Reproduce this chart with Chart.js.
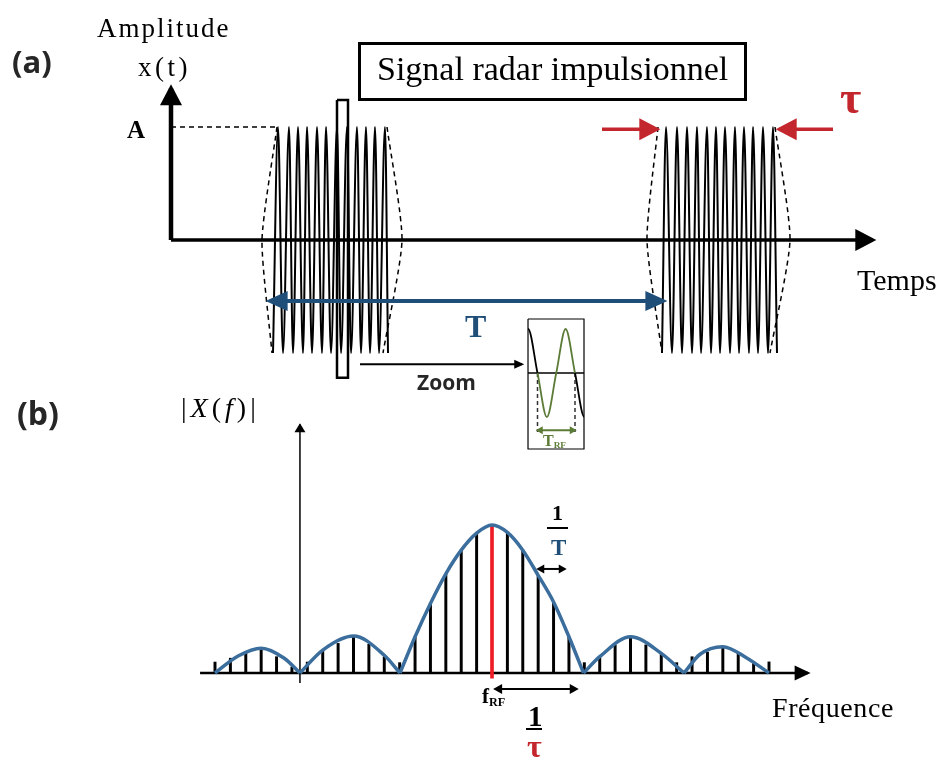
<!DOCTYPE html>
<html lang="fr">
<head>
<meta charset="utf-8">
<title>Signal radar impulsionnel</title>
<script src="https://cdn.jsdelivr.net/npm/chart.js@4"></script>
<style>
  html, body { margin: 0; padding: 0; background: #fff; }
  #wrap { position: relative; width: 941px; height: 758px; overflow: hidden; }
  #chart { position: absolute; left: 0; top: 0; }
  .lbl { position: absolute; white-space: nowrap; line-height: 1; color: #000; }
  .serif { font-family: "Liberation Serif", "DejaVu Serif", serif; }
  .sans { font-family: "Open Sans", "Liberation Sans", sans-serif; font-weight: 700; }
  .b { font-weight: 700; }
  .bar { position: absolute; background: #000; }
  .sub { font-size: 0.58em; vertical-align: -0.25em; }
  #titleBox { position: absolute; left: 358px; top: 42px; width: 389px; height: 59px;
              box-sizing: border-box; border: 3px solid #000; }
</style>
</head>
<body>
<div id="wrap">
  <canvas id="chart" width="941" height="758"></canvas>

  <!-- (a) -->
  <div class="lbl sans" style="left:12px; top:46px; font-size:31px; color:#262626;">(a)</div>
  <div class="lbl serif" style="left:97px; top:15px; font-size:27px; letter-spacing:2px;">Amplitude</div>
  <div class="lbl serif" style="left:138px; top:54px; font-size:27px; letter-spacing:3.5px;">x(t)</div>
  <div class="lbl serif b" style="left:127px; top:117px; font-size:25px;">A</div>
  <div id="titleBox"></div>
  <div class="lbl serif" style="left:377px; top:52px; font-size:34px;">Signal radar impulsionnel</div>
  <div class="lbl serif b" style="left:840px; top:75px; font-size:46px; color:#c4262e;">τ</div>
  <div class="lbl serif" style="left:857px; top:265px; font-size:30px;">Temps</div>
  <div class="lbl serif b" style="left:465px; top:310px; font-size:32px; color:#1f4e79;">T</div>
  <div class="lbl sans" style="left:417px; top:372px; font-size:21px; color:#262626;">Zoom</div>
  <div class="lbl serif b" style="left:543px; top:433px; font-size:16px; color:#5b7b36;">T<span class="sub">RF</span></div>

  <!-- (b) -->
  <div class="lbl sans" style="left:17px; top:397px; font-size:32px; color:#262626;">(b)</div>
  <div class="lbl serif" style="left:181px; top:394px; font-size:28px; letter-spacing:4px;">|<i>X</i>(<i>f</i>)|</div>
  <div class="lbl serif" style="left:772px; top:694px; font-size:28px; letter-spacing:0.6px;">Fréquence</div>
  <div class="lbl serif b" style="left:482px; top:686px; font-size:21px;">f<span class="sub">RF</span></div>
  <div class="lbl serif b" style="left:552px; top:502px; font-size:22px;">1</div>
  <div class="bar" style="left:547px; top:527px; width:21px; height:1.5px;"></div>
  <div class="lbl serif b" style="left:551px; top:536px; font-size:23px; color:#1f4e79;">T</div>
  <div class="lbl serif b" style="left:528px; top:702px; font-size:29px;">1</div>
  <div class="bar" style="left:526px; top:728px; width:16px; height:2px;"></div>
  <div class="lbl serif b" style="left:527px; top:730px; font-size:32px; color:#c4262e;">τ</div>
</div>

<script>
/* global Chart */
// ---- (a) Signal radar impulsionnel : temps (µs), amplitude normalisée (A = 1)
const pulse1Times = [10.2, 10.7, 11.2, 11.8, 12.2, 12.7, 13.2, 13.6, 14.1, 14.6, 15.1, 15.5, 16.0,
  16.6, 17.0, 17.6, 18.0, 18.6, 19.0, 19.5, 19.9, 20.4, 20.8, 21.4, 21.7];
const pulse2Times = [49.1, 49.5, 50.1, 50.6, 51.1, 51.6, 52.1, 52.6, 53.0, 53.6, 54.0, 54.5, 54.9,
  55.4, 55.9, 56.4, 56.8, 57.3, 57.8, 58.2, 58.7, 59.2, 59.7, 60.2, 60.6];
const pulseLevels = [-1, 1, -1, 1, -1, 1, -1, 1, -1, 1, -1, 1, -1, 1, -1, 1, -1, 1, -1, 1, -1, 1, -1, 1, -1];

// enveloppes (pointillés) : haut, axe, bas
const env1LeftTimes = [10.6, 9.1, 10.1];
const env1RightTimes = [21.6, 23.1, 21.2];
const env2LeftTimes = [48.7, 47.6, 49.1];
const env2RightTimes = [60.4, 61.9, 59.9];
const envLevels = [1, 0, -1];

const timeAxisEnd = 70.2;
const ampAxisEnd = 1.34;
const refLineTimes = [0, 10.7]; // niveau A
const periodArrowTimes = [9.9, 49.2]; // T
const periodArrowLevel = -0.54;
const tauLeftTimes = [43.1, 48.6];
const tauRightTimes = [66.2, 60.8];
const tauArrowLevel = 0.98;
const zoomWindowTimes = [16.6, 17.7];
const zoomWindowLevels = [1.24, -1.22];
const zoomArrowTimes = [18.9, 35.1];
const zoomArrowLevel = -1.1;

// ---- (b) Spectre |X(f)| : fréquence en multiples de 1/T autour de f_RF
const harmonics = [-18, -17, -16, -15, -14, -13, -12, -11, -10, -9, -8, -7, -6, -5, -4, -3, -2, -1, 0,
  1, 2, 3, 4, 5, 6, 7, 8, 9, 10, 11, 12, 13, 14, 15, 16, 17, 18];
const lineMags = [0.074, 0.10, 0.135, 0.17, 0.11, 0.04, 0.074, 0.155, 0.20, 0.25, 0.195, 0.11, 0.07,
  0.245, 0.47, 0.67, 0.83, 0.945, null,
  0.95, 0.83, 0.66, 0.48, 0.245, 0.07, 0.11, 0.19, 0.245, 0.19, 0.135, 0.07, 0.11, 0.14, 0.175, 0.135,
  0.075, 0.075];
const carrierHarmonic = 0;
const carrierMag = [-0.035, 1.0];

// enveloppe en sinus cardinal, lobe par lobe
const lobeL2Freq = [-18, -16.5, -15, -13.5, -12.48];
const lobeL2Mag = [0, 0.115, 0.168, 0.1, 0];
const lobeL1Freq = [-12.48, -11, -9, -7, -5.98];
const lobeL1Mag = [0, 0.155, 0.25, 0.12, 0];
const mainLobeFreq = [-5.98, -5, -4, -3, -2, -1, 0, 1, 2, 3, 4, 5, 5.95];
const mainLobeMag = [0, 0.245, 0.47, 0.67, 0.83, 0.945, 1, 0.95, 0.83, 0.66, 0.48, 0.245, 0];
const lobeR1Freq = [5.95, 7, 9, 11, 12.48];
const lobeR1Mag = [0, 0.11, 0.245, 0.133, 0];
const lobeR2Freq = [12.48, 13.5, 15, 16.5, 18];
const lobeR2Mag = [0, 0.125, 0.178, 0.105, 0];

const freqAxisRange = [-18.97, 20.53];
const magAxisFreq = -12.48;
const magAxisRange = [-0.068, 1.68];
const invTArrow = [2.99, 4.74];
const invTLevel = 0.703;
const invTauArrow = [0.19, 5.52];
const invTauLevel = -0.108;

// ---- encart zoom : temps en périodes T_RF
const rfPhase = [-0.5, -0.25, 0, 0.25, 0.5, 0.75, 1, 1.25, 1.5];
const rfLevels = [0, 1, 0, -1, 0, 1, 0, -1, 0];
const insetBoxX = [-0.253, 1.24];
const insetBoxY = [1.227, -1.727];
const rfMarkLevel = -1.34;
const rfArrowLevel = -1.3;

const BLACK = '#000';
const NAVY = '#1f4e79';
const RED = '#c4262e';
const ENV_BLUE = '#3b6e9c';
const CARRIER_RED = '#ee1c24';
const GREEN = '#5b7b36';

const W = 941;
const H = 758;
const INSET_LEFT = 528;
const INSET_RIGHT = 584;

/**
 * Bornes d'une échelle couvrant tout le canevas, telle que v0 -> p0 et v1 -> p1
 */
function fitX(v0, p0, v1, p1) {
  const k = (p1 - p0) / (v1 - v0);
  const min = v0 - p0 / k;
  return { min: min, max: min + W / k };
}
function fitY(v0, p0, v1, p1) {
  const k = (p0 - p1) / (v1 - v0);
  const min = v0 - (H - p0) / k;
  return { min: min, max: min + H / k };
}

function pts(xs, ys) {
  return xs.map(function (x, i) { return { x: x, y: Array.isArray(ys) ? ys[i] : ys }; });
}

function line(axes, xs, ys, color, width, extra) {
  return Object.assign({
    type: 'line',
    xAxisID: 'x' + axes,
    yAxisID: 'y' + axes,
    data: pts(xs, ys),
    borderColor: color,
    borderWidth: width,
    pointRadius: 0,
    fill: false,
    tension: 0,
    borderCapStyle: 'butt',
  }, extra || {});
}

// pointes de flèches aux extrémités des segments
const arrowHeads = {
  id: 'arrowHeads',
  afterDatasetsDraw(chart) {
    const ctx = chart.ctx;
    chart.data.datasets.forEach(function (ds, i) {
      if (!ds.arrow) return;
      const p = chart.getDatasetMeta(i).data;
      const ends = [];
      if (ds.arrow.end !== false) ends.push([p[p.length - 1], p[p.length - 2]]);
      if (ds.arrow.start) ends.push([p[0], p[1]]);
      ends.forEach(function (e) {
        const tip = e[0];
        const prev = e[1];
        const a = Math.atan2(tip.y - prev.y, tip.x - prev.x);
        const over = ds.borderWidth * ds.arrow.len / ds.arrow.width;
        ctx.save();
        ctx.translate(tip.x, tip.y);
        ctx.rotate(a);
        ctx.fillStyle = ds.borderColor;
        ctx.beginPath();
        ctx.moveTo(over, 0);
        ctx.lineTo(over - ds.arrow.len, -ds.arrow.width / 2);
        ctx.lineTo(over - ds.arrow.len, ds.arrow.width / 2);
        ctx.closePath();
        ctx.fill();
        ctx.restore();
      });
    });
  },
};

const dash = [5, 4];
const lobe = { cubicInterpolationMode: 'monotone', borderJoinStyle: 'round' };

const datasets = [
  // ---- encart
  line('z', rfPhase, rfLevels, BLACK, 1.8, {
    cubicInterpolationMode: 'monotone',
    clip: { left: -INSET_LEFT, right: INSET_RIGHT - W, top: false, bottom: false },
    segment: {
      borderColor: function (c) {
        return c.p0.parsed.x >= 0 && c.p1.parsed.x <= 1 ? GREEN : BLACK;
      },
    },
  }),
  line('z', [insetBoxX[0], insetBoxX[1]], 0, BLACK, 1.4),
  line('z', [0, 0], [0, rfMarkLevel], '#333', 1.5, { borderDash: [4, 3] }),
  line('z', [1, 1], [0, rfMarkLevel], '#333', 1.5, { borderDash: [4, 3] }),
  line('z', [0, 1], rfArrowLevel, GREEN, 2, { arrow: { len: 7, width: 8, start: true } }),
  line('z', [insetBoxX[0], insetBoxX[1], insetBoxX[1], insetBoxX[0], insetBoxX[0]],
    [insetBoxY[0], insetBoxY[0], insetBoxY[1], insetBoxY[1], insetBoxY[0]], BLACK, 1.2),

  // ---- (b)
  line('b', invTArrow, invTLevel, BLACK, 2, { arrow: { len: 8, width: 9, start: true } }),
  line('b', invTauArrow, invTauLevel, BLACK, 2, { arrow: { len: 9, width: 10, start: true } }),
  line('b', lobeL2Freq, lobeL2Mag, ENV_BLUE, 3.5, lobe),
  line('b', lobeL1Freq, lobeL1Mag, ENV_BLUE, 3.5, lobe),
  line('b', mainLobeFreq, mainLobeMag, ENV_BLUE, 3.5, lobe),
  line('b', lobeR1Freq, lobeR1Mag, ENV_BLUE, 3.5, lobe),
  line('b', lobeR2Freq, lobeR2Mag, ENV_BLUE, 3.5, lobe),
  {
    type: 'bar',
    xAxisID: 'xb',
    yAxisID: 'yb',
    data: [{ x: carrierHarmonic, y: carrierMag }],
    backgroundColor: CARRIER_RED,
    barThickness: 3,
    grouped: false,
  },
  {
    type: 'bar',
    xAxisID: 'xb',
    yAxisID: 'yb',
    data: pts(harmonics, lineMags),
    backgroundColor: BLACK,
    barThickness: 2.3,
    grouped: false,
  },
  line('b', freqAxisRange, 0, BLACK, 2.5, { arrow: { len: 16, width: 15 } }),
  line('b', [magAxisFreq, magAxisFreq], magAxisRange, BLACK, 1.5, { arrow: { len: 9, width: 11 } }),

  // ---- (a)
  line('a', zoomArrowTimes, zoomArrowLevel, BLACK, 2, { arrow: { len: 10, width: 9 } }),
  line('a', tauLeftTimes, tauArrowLevel, RED, 3.5, { arrow: { len: 21, width: 22 } }),
  line('a', tauRightTimes, tauArrowLevel, RED, 3.5, { arrow: { len: 21, width: 22 } }),
  line('a', periodArrowTimes, periodArrowLevel, NAVY, 4, { arrow: { len: 22, width: 20, start: true } }),
  line('a', [zoomWindowTimes[0], zoomWindowTimes[1], zoomWindowTimes[1], zoomWindowTimes[0], zoomWindowTimes[0]],
    [zoomWindowLevels[0], zoomWindowLevels[0], zoomWindowLevels[1], zoomWindowLevels[1], zoomWindowLevels[0]],
    BLACK, 2.5),
  line('a', env1LeftTimes, envLevels, BLACK, 1.5, { borderDash: dash, tension: 0.2 }),
  line('a', env1RightTimes, envLevels, BLACK, 1.5, { borderDash: dash, tension: 0.2 }),
  line('a', env2LeftTimes, envLevels, BLACK, 1.5, { borderDash: dash, tension: 0.2 }),
  line('a', env2RightTimes, envLevels, BLACK, 1.5, { borderDash: dash, tension: 0.2 }),
  line('a', pulse1Times, pulseLevels, BLACK, 2, { cubicInterpolationMode: 'monotone' }),
  line('a', pulse2Times, pulseLevels, BLACK, 2, { cubicInterpolationMode: 'monotone' }),
  line('a', refLineTimes, 1, BLACK, 1.5, { borderDash: dash }),
  line('a', [0, timeAxisEnd], 0, BLACK, 3.5, { arrow: { len: 21, width: 22 } }),
  line('a', [0, 0], [0, ampAxisEnd], BLACK, 4.5, { arrow: { len: 21, width: 22 } }),
];

function hidden(range) {
  return Object.assign({
    type: 'linear',
    display: false,
    bounds: 'data',
    offset: false,
    beginAtZero: false,
    grace: 0,
    grid: { offset: false },
  }, range);
}

new Chart(document.getElementById('chart').getContext('2d'), {
  type: 'line',
  data: { datasets: datasets },
  options: {
    responsive: false,
    animation: false,
    events: [],
    layout: { padding: 0 },
    plugins: { legend: { display: false }, tooltip: { enabled: false } },
    scales: {
      xa: hidden(fitX(0, 171, 10, 271)),
      ya: hidden(fitY(0, 240, 1, 127)),
      xb: hidden(fitX(0, 492, 18, 769)),
      yb: hidden(fitY(0, 673, 1, 525)),
      xz: hidden(fitX(0, 537.5, 1, 575)),
      yz: hidden(fitY(0, 373, 1, 329)),
    },
  },
  plugins: [arrowHeads],
});
</script>
</body>
</html>
